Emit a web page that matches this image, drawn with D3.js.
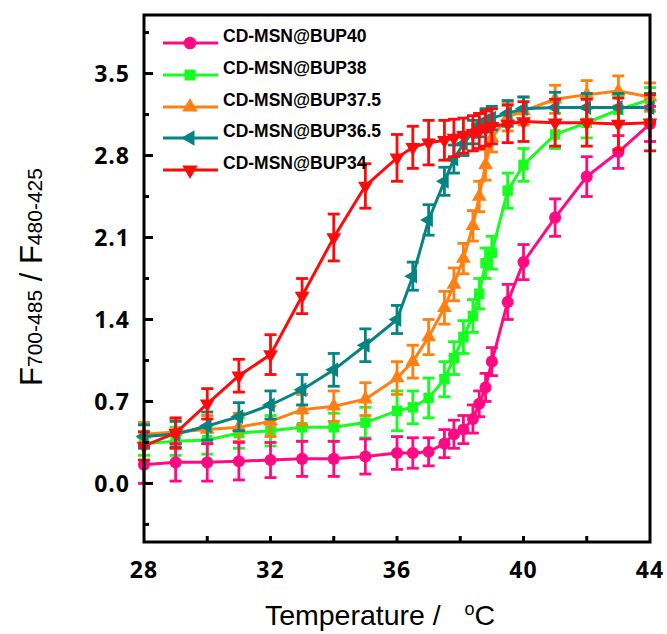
<!DOCTYPE html>
<html>
<head>
<meta charset="utf-8">
<script src="https://cdn.jsdelivr.net/npm/d3@7"></script>
<style>
  body { margin: 0; background: #fff; }
  svg { display: block; }
</style>
</head>
<body>
<svg id="chart" width="667" height="634"></svg>
<script>
// temperatures (°C) shared by every series
var temps = [28, 29, 30, 31, 32, 33, 34, 35, 36, 36.5, 37, 37.5, 37.8, 38.1, 38.4, 38.6, 38.8, 39, 39.5, 40, 41, 42, 43, 44];

var bup40   = [0.16, 0.18, 0.18, 0.19, 0.20, 0.21, 0.21, 0.23, 0.26, 0.26, 0.27, 0.34, 0.42, 0.46, 0.55, 0.68, 0.82, 1.04, 1.55, 1.89, 2.27, 2.62, 2.83, 3.07];
var bup38   = [0.34, 0.36, 0.37, 0.43, 0.45, 0.48, 0.48, 0.52, 0.62, 0.65, 0.73, 0.89, 1.07, 1.25, 1.43, 1.62, 1.88, 1.97, 2.50, 2.72, 2.98, 3.08, 3.19, 3.28];
var bup375  = [0.42, 0.44, 0.46, 0.48, 0.53, 0.63, 0.66, 0.72, 0.90, 1.04, 1.25, 1.50, 1.70, 1.92, 2.20, 2.45, 2.72, 2.95, 3.13, 3.18, 3.28, 3.32, 3.35, 3.30];
var bup365  = [0.40, 0.42, 0.49, 0.57, 0.67, 0.80, 0.97, 1.18, 1.40, 1.77, 2.25, 2.58, 2.77, 2.90, 3.00, 3.06, 3.10, 3.12, 3.16, 3.20, 3.21, 3.21, 3.21, 3.21];
var bup34   = [0.32, 0.43, 0.68, 0.92, 1.10, 1.60, 2.10, 2.54, 2.78, 2.87, 2.91, 2.93, 2.95, 2.97, 2.99, 3.01, 3.03, 3.05, 3.07, 3.09, 3.08, 3.08, 3.07, 3.08];

// error bar half-heights
var err40  = [0.16, 0.16, 0.16, 0.16, 0.15, 0.15, 0.15, 0.15, 0.14, 0.13, 0.12, 0.12, 0.12, 0.12, 0.12, 0.11, 0.12, 0.12, 0.15, 0.15, 0.16, 0.17, 0.14, 0.15];
var err38  = [0.10, 0.12, 0.12, 0.13, 0.13, 0.12, 0.12, 0.13, 0.17, 0.14, 0.17, 0.15, 0.14, 0.14, 0.14, 0.13, 0.13, 0.14, 0.15, 0.14, 0.12, 0.13, 0.12, 0.10];
var err375 = [0.10, 0.10, 0.12, 0.12, 0.13, 0.13, 0.13, 0.14, 0.14, 0.14, 0.15, 0.14, 0.14, 0.13, 0.13, 0.13, 0.13, 0.12, 0.12, 0.12, 0.12, 0.12, 0.13, 0.12];
var err365 = [0.10, 0.11, 0.12, 0.12, 0.12, 0.13, 0.14, 0.14, 0.12, 0.12, 0.13, 0.12, 0.12, 0.10, 0.10, 0.10, 0.10, 0.10, 0.11, 0.10, 0.13, 0.12, 0.12, 0.12];
var err34  = [0.12, 0.13, 0.13, 0.14, 0.17, 0.15, 0.20, 0.19, 0.20, 0.18, 0.19, 0.17, 0.16, 0.15, 0.15, 0.15, 0.15, 0.15, 0.16, 0.17, 0.20, 0.20, 0.22, 0.24];

var names = ['CD-MSN@BUP40', 'CD-MSN@BUP38', 'CD-MSN@BUP37.5', 'CD-MSN@BUP36.5', 'CD-MSN@BUP34'];
var xTicks = [28, 32, 36, 40, 44];
var yTicks = [0.0, 0.7, 1.4, 2.1, 2.8, 3.5];

var series = [
  { name: names[0], vals: bup40,  err: err40,  color: '#ff0a84', shape: d3.symbolCircle,   size: 115, rot: 0 },
  { name: names[1], vals: bup38,  err: err38,  color: '#14ff1e', shape: d3.symbolSquare,   size: 110, rot: 0 },
  { name: names[2], vals: bup375, err: err375, color: '#ff8012', shape: d3.symbolTriangle, size: 95,  rot: 0 },
  { name: names[3], vals: bup365, err: err365, color: '#058483', shape: d3.symbolTriangle, size: 95,  rot: -90 },
  { name: names[4], vals: bup34,  err: err34,  color: '#ff0a0a', shape: d3.symbolTriangle, size: 95,  rot: 180 }
];

var svg = d3.select('#chart');
var L = 144, R = 650, T = 15, B = 542;

var x = d3.scaleLinear().domain([28, 44]).range([L, R]);
var y = d3.scaleLinear().domain([-0.5, 4.0]).range([B, T]);

var font = "'Open Sans', 'DejaVu Sans', sans-serif";

// draw order so the red curve sits on top
var order = [1, 2, 3, 0, 4];
var plot = svg.append('g');

order.forEach(function (k) {
  var s = series[k];
  var pts = temps.map(function (t, i) { return { t: t, v: s.vals[i], e: s.err[i] }; });
  var g = plot.append('g');

  // error bars
  var eb = g.selectAll('g.eb').data(pts).enter().append('g')
    .attr('stroke', s.color).attr('stroke-width', 2.8);
  eb.append('line')
    .attr('x1', function (d) { return x(d.t); }).attr('x2', function (d) { return x(d.t); })
    .attr('y1', function (d) { return y(d.v - d.e); }).attr('y2', function (d) { return y(d.v + d.e); });
  [-1, 1].forEach(function (sg) {
    eb.append('line')
      .attr('x1', function (d) { return x(d.t) - 6; }).attr('x2', function (d) { return x(d.t) + 6; })
      .attr('y1', function (d) { return y(d.v + sg * d.e); }).attr('y2', function (d) { return y(d.v + sg * d.e); });
  });

  g.append('path')
    .datum(pts)
    .attr('fill', 'none')
    .attr('stroke', s.color)
    .attr('stroke-width', 3)
    .attr('d', d3.line().x(function (d) { return x(d.t); }).y(function (d) { return y(d.v); }));

  g.selectAll('path.m').data(pts).enter().append('path')
    .attr('class', 'm')
    .attr('fill', s.color)
    .attr('d', d3.symbol().type(s.shape).size(s.size))
    .attr('transform', function (d) { return 'translate(' + x(d.t) + ',' + y(d.v) + ') rotate(' + s.rot + ')'; });
});

// frame
svg.append('rect')
  .attr('x', L).attr('y', T).attr('width', R - L).attr('height', B - T)
  .attr('fill', 'none').attr('stroke', '#000').attr('stroke-width', 3);

// y ticks (inward) with minor ticks between
var yMinor = yTicks.map(function (v) { return v + 0.35; }).concat([-0.35]);
svg.selectAll('line.ymaj').data(yTicks).enter().append('line')
  .attr('x1', L).attr('x2', L + 9)
  .attr('y1', function (d) { return y(d); }).attr('y2', function (d) { return y(d); })
  .attr('stroke', '#000').attr('stroke-width', 3);
svg.selectAll('line.ymin').data(yMinor).enter().append('line')
  .attr('x1', L).attr('x2', L + 5)
  .attr('y1', function (d) { return y(d); }).attr('y2', function (d) { return y(d); })
  .attr('stroke', '#000').attr('stroke-width', 3);
svg.selectAll('text.yl').data(yTicks).enter().append('text')
  .attr('x', L - 14).attr('y', function (d) { return y(d); })
  .attr('dy', '0.36em')
  .attr('text-anchor', 'end')
  .attr('font-family', font).attr('font-weight', 700).attr('font-size', 23)
  .attr('letter-spacing', 1)
  .text(function (d) { return d.toFixed(1); });

// x ticks every 2 degrees
var xMinor = d3.range(30, 44, 2);
svg.selectAll('line.xt').data(xMinor).enter().append('line')
  .attr('x1', function (d) { return x(d); }).attr('x2', function (d) { return x(d); })
  .attr('y1', B).attr('y2', B - 6)
  .attr('stroke', '#000').attr('stroke-width', 3);
svg.selectAll('text.xl').data(xTicks).enter().append('text')
  .attr('x', function (d) { return x(d); }).attr('y', 578)
  .attr('text-anchor', 'middle')
  .attr('font-family', font).attr('font-weight', 700).attr('font-size', 23)
  .attr('letter-spacing', 1)
  .text(function (d) { return d; });

// axis titles
var xt = svg.append('text')
  .attr('x', 380).attr('y', 625)
  .attr('text-anchor', 'middle')
  .style('white-space', 'pre')
  .attr('font-family', "'Liberation Sans', Arial, sans-serif").attr('font-size', 28.5);
xt.append('tspan').text('Temperature /\u00a0\u00a0 ');
xt.append('tspan').attr('font-size', 18).attr('dy', -10).text('o');
xt.append('tspan').attr('dy', 10).text('C');

var yt = svg.append('text')
  .attr('transform', 'translate(42,277) rotate(-90)')
  .attr('text-anchor', 'middle')
  .attr('font-family', "'Liberation Sans', Arial, sans-serif").attr('font-size', 31);
yt.append('tspan').text('F');
yt.append('tspan').attr('font-size', 21).text('700-485');
yt.append('tspan').text(' / F');
yt.append('tspan').attr('font-size', 21).text('480-425');

// legend
var legY = [43, 75, 107, 138, 170];
var leg = svg.append('g');
series.forEach(function (s, i) {
  var row = leg.append('g').attr('transform', 'translate(0,' + legY[i] + ')');
  row.append('line').attr('x1', 163).attr('x2', 218).attr('y1', 0).attr('y2', 0)
    .attr('stroke', s.color).attr('stroke-width', 3);
  row.append('path')
    .attr('fill', s.color)
    .attr('d', d3.symbol().type(s.shape).size(s.size * 1.1))
    .attr('transform', 'translate(190,0) rotate(' + s.rot + ')');
  row.append('text')
    .attr('x', 223).attr('y', -1)
    .attr('font-family', "'Liberation Sans', Arial, sans-serif")
    .attr('font-weight', 700).attr('font-size', 17.5)
    .text(s.name);
});
</script>
</body>
</html>
